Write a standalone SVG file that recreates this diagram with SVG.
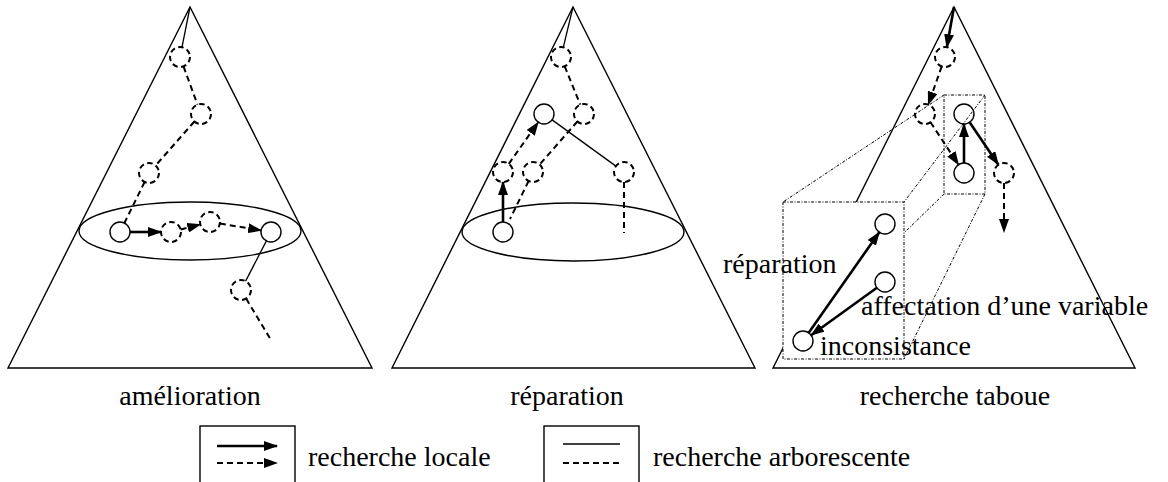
<svg xmlns="http://www.w3.org/2000/svg" width="1168" height="482" viewBox="0 0 1168 482">
  <defs>
    <marker id="head" viewBox="0 0 14 10" refX="13" refY="5" markerWidth="14" markerHeight="10" markerUnits="userSpaceOnUse" orient="auto">
      <path d="M0,0 L14,5 L0,10 Z" fill="#000"/>
    </marker>
  </defs>
  <style>
    text { font-family: "Liberation Serif", "Times New Roman", serif; font-size: 28px; fill: #000; }
    .mid { text-anchor: middle; }
    .frame { fill: none; stroke: #000; stroke-width: 1.4; }
    .tree { fill: none; stroke: #000; stroke-width: 1.3; }
    .treed { fill: none; stroke: #000; stroke-width: 2; stroke-dasharray: 6 4; }
    .local { fill: none; stroke: #000; stroke-width: 2.6; marker-end: url(#head); }
    .locald { fill: none; stroke: #000; stroke-width: 2; stroke-dasharray: 6 4; marker-end: url(#head); }
    .node { fill: none; stroke: #000; stroke-width: 1.4; }
    .noded { fill: none; stroke: #000; stroke-width: 2; stroke-dasharray: 5.5 3.5; }
    .zoom { fill: none; stroke: #000; stroke-width: 1; stroke-dasharray: 3 1.5 1 1.5; }
    .zoombox { fill: #fff; stroke: #000; stroke-width: 1; stroke-dasharray: 3 1.5 1 1.5; }
  </style>

  <!-- search spaces -->
  <g id="space-amelioration">
    <path class="frame" d="M190,7 L8,368 L372,368 Z"/>
    <ellipse class="frame" cx="190" cy="231" rx="111" ry="29"/>
  </g>
  <g id="space-reparation">
    <path class="frame" d="M573,7 L392,368 L755,368 Z"/>
    <ellipse class="frame" cx="573" cy="232" rx="111" ry="29"/>
  </g>
  <g id="space-tabou">
    <path class="frame" d="M954,7 L773,368 L1135,368 Z"/>
    <!-- magnified region -->
    <rect class="zoom" x="944" y="95" width="41" height="99"/>
    <rect class="zoombox" x="783" y="202" width="121" height="157"/>
    <line class="zoom" x1="944" y1="95" x2="783" y2="202"/>
    <line class="zoom" x1="985" y1="95" x2="904" y2="202"/>
    <line class="zoom" x1="944" y1="194" x2="904" y2="233"/>
    <line class="zoom" x1="985" y1="194" x2="904" y2="359"/>
  </g>

  <!-- nodes -->
  <g id="nodes-amelioration">
    <circle class="noded" cx="180" cy="57" r="10"/>
    <circle class="noded" cx="201" cy="114" r="10"/>
    <circle class="noded" cx="149" cy="173" r="10"/>
    <circle class="node" cx="120" cy="232" r="10"/>
    <circle class="noded" cx="171" cy="232" r="10"/>
    <circle class="noded" cx="210" cy="222" r="10"/>
    <circle class="node" cx="271" cy="232" r="10"/>
    <circle class="noded" cx="241" cy="290" r="10"/>
  </g>
  <g id="nodes-reparation">
    <circle class="noded" cx="561" cy="57" r="10"/>
    <circle class="noded" cx="584" cy="114" r="10"/>
    <circle class="node" cx="544" cy="114" r="10"/>
    <circle class="noded" cx="503" cy="172" r="10"/>
    <circle class="noded" cx="533" cy="172" r="10"/>
    <circle class="noded" cx="624" cy="172" r="10"/>
    <circle class="node" cx="503" cy="232" r="10"/>
  </g>
  <g id="nodes-tabou">
    <circle class="noded" cx="945" cy="57" r="10"/>
    <circle class="noded" cx="925" cy="114" r="10"/>
    <circle class="node" cx="964" cy="114" r="10"/>
    <circle class="node" cx="964" cy="173" r="10"/>
    <circle class="noded" cx="1004" cy="173" r="10"/>
    <circle class="node" cx="885" cy="224" r="10"/>
    <circle class="node" cx="885" cy="282" r="10"/>
    <circle class="node" cx="803" cy="341" r="10"/>
  </g>

  <!-- connectors -->
  <g id="connectors">
    <!-- amélioration -->
    <line class="tree" x1="190" y1="7" x2="182" y2="47.2"/>
    <line class="treed" x1="183.5" y1="66.4" x2="197.5" y2="104.6"/>
    <line class="treed" x1="194.4" y1="121.5" x2="155.6" y2="165.5"/>
    <line class="treed" x1="144.6" y1="182" x2="124.4" y2="223"/>
    <line class="local" x1="130" y1="232" x2="161" y2="232"/>
    <line class="locald" x1="180.7" y1="229.5" x2="200.3" y2="224.5"/>
    <line class="locald" x1="219.9" y1="223.6" x2="261.1" y2="230.4"/>
    <line class="tree" x1="266.4" y1="240.9" x2="245.6" y2="281.1"/>
    <line class="treed" x1="246.1" y1="298.6" x2="271" y2="340"/>

    <!-- réparation -->
    <line class="tree" x1="573" y1="7" x2="563.3" y2="47.3"/>
    <line class="treed" x1="564.7" y1="66.3" x2="580.3" y2="104.7"/>
    <line class="treed" x1="577.4" y1="121.5" x2="539.6" y2="164.5"/>
    <line class="treed" x1="528.6" y1="181" x2="510" y2="219"/>
    <line class="tree" x1="552.1" y1="119.9" x2="615.9" y2="166.1"/>
    <line class="treed" x1="624" y1="182" x2="624" y2="233"/>
    <line class="local" x1="503" y1="222" x2="503" y2="182"/>
    <line class="locald" x1="508.8" y1="163.8" x2="538.2" y2="122.2"/>

    <!-- recherche taboue -->
    <line class="local" x1="954" y1="7" x2="946.8" y2="47.2"/>
    <line class="locald" x1="941.7" y1="66.4" x2="928.3" y2="104.6"/>
    <line class="locald" x1="930.5" y1="122.3" x2="958.5" y2="164.7"/>
    <line class="local" x1="964" y1="163" x2="964" y2="124"/>
    <line class="local" x1="969.6" y1="122.3" x2="998.4" y2="164.7"/>
    <line class="locald" x1="1004" y1="183" x2="1004" y2="232"/>
    <line class="local" x1="808.7" y1="332.8" x2="879.3" y2="232.2"/>
    <line class="local" x1="876.9" y1="287.8" x2="811.1" y2="335.2"/>
  </g>

  <!-- annotations -->
  <g id="labels">
    <text x="723" y="273">réparation</text>
    <text x="861" y="315">affectation d’une variable</text>
    <text x="820" y="355">inconsistance</text>
    <text class="mid" x="190" y="405">amélioration</text>
    <text class="mid" x="567" y="405">réparation</text>
    <text class="mid" x="955" y="405">recherche taboue</text>
  </g>

  <!-- legend -->
  <g id="legend-local">
    <rect class="frame" x="200" y="426" width="95" height="70"/>
    <line class="local" x1="217" y1="446" x2="277" y2="446"/>
    <line class="locald" x1="217" y1="463" x2="277" y2="463"/>
    <text x="308" y="466">recherche locale</text>
  </g>
  <g id="legend-tree">
    <rect class="frame" x="544" y="426" width="95" height="70"/>
    <line class="tree" x1="563" y1="444" x2="620" y2="444"/>
    <line class="treed" x1="563" y1="463" x2="620" y2="463"/>
    <text x="653" y="466">recherche arborescente</text>
  </g>
</svg>
